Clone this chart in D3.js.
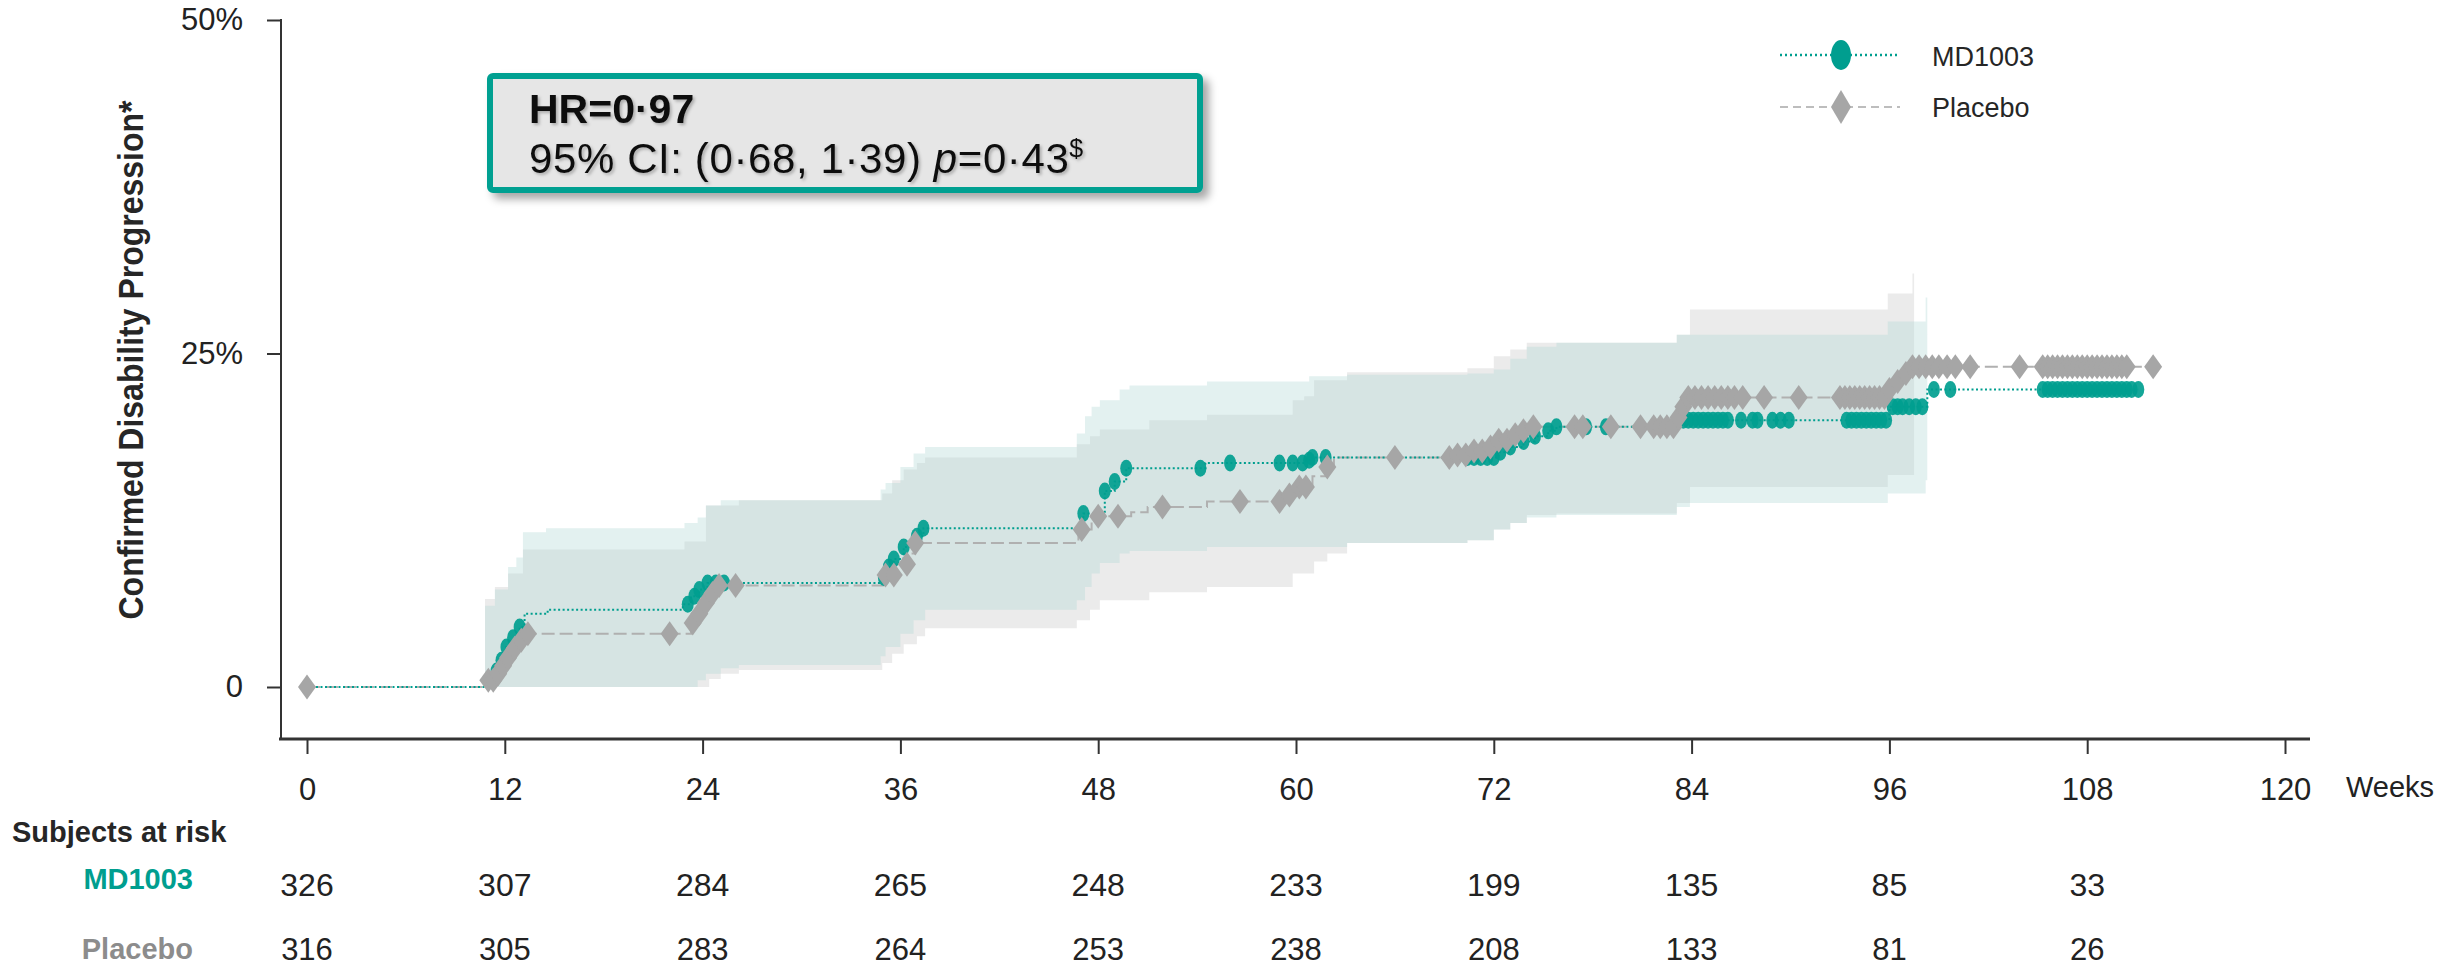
<!DOCTYPE html>
<html><head><meta charset="utf-8">
<script src="https://cdn.jsdelivr.net/npm/d3@7"></script>
<style>
html,body{margin:0;padding:0;background:#fff;}
svg{display:block;font-family:Arial,"Liberation Sans",Helvetica,sans-serif;}
</style></head>
<body>
<script>
// ---------- DATA ----------
const xTicks = [0,12,24,36,48,60,72,84,96,108,120];
const yTicks = [0,25,50];
const seriesNames = ["MD1003","Placebo"];

// Kaplan-Meier step curves: [week, cumulative % progressed]
const mdSteps = [
 [0,0],[11.2,0.5],[11.5,1.2],[11.8,2.0],[12.1,3.0],[12.5,3.7],[12.9,4.5],[13.2,5.5],[14.6,5.8],
 [22.8,6.2],[23.3,6.8],[23.8,7.3],[24.3,7.8],
 [35.0,8.2],[35.3,9.0],[35.6,9.6],[36.2,10.5],[37.0,11.3],[37.4,11.9],
 [47.1,13.0],[48.4,14.7],[49.0,15.4],[49.7,16.4],
 [54.5,16.8],[60.6,17.0],[61.0,17.2],
 [72.3,17.6],[73.0,18.0],[73.8,18.4],[74.5,18.8],[75.3,19.2],[75.8,19.5],
 [83.1,20.0],[96.0,21.0],[98.3,22.3],[111.1,22.3]
];
const plSteps = [
 [0,0],[11.0,0.5],[11.4,1.0],[11.8,1.6],[12.2,2.2],[12.6,2.9],[13.0,3.5],[13.4,4.0],
 [23.3,4.8],[23.8,5.5],[24.2,6.3],[24.6,7.0],[25.0,7.6],
 [35.1,8.4],[35.7,9.2],[36.5,10.0],[36.9,10.8],
 [46.8,11.8],[47.6,12.8],[50.0,13.1],[51.0,13.5],[54.6,13.9],
 [59.5,14.4],[60.2,15.0],[61.0,15.8],[61.8,16.5],[62.3,17.2],
 [69.5,17.4],[70.5,17.7],[71.5,18.0],[72.3,18.5],[73.0,18.9],[73.8,19.2],[74.4,19.5],
 [83.1,20.2],[83.4,21.0],[83.7,21.7],
 [96.0,22.3],[96.5,22.9],[97.0,23.5],[97.4,24.0],[112.0,24.0]
];

// Marker weeks (events / censored)
const mdMarks = [11.2,11.5,11.8,12.1,12.5,12.9,23.1,23.5,23.8,24.3,24.8,25.3,35.0,35.3,35.6,36.2,37.0,37.4,
 47.1,48.4,49.0,49.7,54.2,56.0,59.0,59.8,60.4,60.8,61.0,61.8,
 70.4,70.8,71.2,71.6,72.0,72.4,73.0,73.8,74.5,75.3,75.8,77.6,78.8,
 83.2,83.5,83.8,84.1,84.4,84.7,85.0,85.3,85.6,85.9,86.2,87.0,87.7,88.0,88.9,89.4,89.9,
 93.4,93.7,94.0,94.3,94.6,94.9,95.2,95.5,95.8,96.2,96.5,96.8,97.2,97.6,98.0,98.7,99.7,
 105.3,105.6,105.9,106.2,106.5,106.8,107.1,107.4,107.7,108.0,108.3,108.6,108.9,109.2,109.5,109.8,110.1,110.4,110.7,111.1];
const plMarks = [0,11.0,11.3,11.6,11.9,12.2,12.6,13.0,13.4,22.0,23.4,23.8,24.2,24.6,25.0,26.0,35.1,35.6,36.4,36.9,
 47.0,48.0,49.2,51.9,56.6,59.0,59.6,60.2,60.6,61.9,66.0,
 69.3,69.8,70.3,70.8,71.3,71.8,72.3,72.8,73.3,73.8,74.4,76.9,77.4,79.1,80.9,81.7,82.1,82.5,82.9,
 83.2,83.5,83.8,84.2,84.6,85.0,85.4,85.8,86.2,86.6,87.1,88.4,90.5,
 93.0,93.3,93.6,93.9,94.2,94.5,94.8,95.1,95.4,95.7,96.0,96.5,97.0,97.4,97.8,98.2,98.6,99.0,99.5,100.0,100.9,103.9,
 105.3,105.6,105.9,106.2,106.5,106.8,107.1,107.4,107.7,108.0,108.3,108.6,108.9,109.2,109.5,109.8,110.1,110.4,112.0];

// 95% confidence bands: [week, lower %, upper %]
const mdBand = [
 [10.8,0,6.1],[11.4,0,7.3],[12.2,0,9.0],[12.7,0,9.7],[13.1,0,11.6],[14.5,0,11.9],[22.9,0,12.3],
 [23.7,0.5,12.7],[24.2,1.0,13.6],[25.1,1.4,14.0],[26.2,1.65,14.0],
 [34.8,2.3,14.8],[35.1,3.0,15.3],[36.0,4.0,16.5],[36.8,5.0,17.5],[37.5,5.8,18.0],
 [46.7,6.5,19.0],[47.2,7.5,20.3],[47.6,8.5,21.0],[48.1,9.3,21.5],[49.3,10.0,22.3],[49.9,10.2,22.6],
 [54.6,10.5,22.9],[60.8,10.5,23.3],[63.1,10.8,23.4],[70.4,11.0,23.5],[72.0,11.8,23.8],[73.0,12.3,24.6],
 [74.0,12.7,25.5],[75.8,12.9,25.8],[83.1,13.5,26.4],[83.9,13.8,26.4],[95.9,14.5,27.4],[98.2,15.5,29.2],[98.3,15.5,29.2]
];
const plBand = [
 [10.8,0,6.6],[11.4,0,7.5],[12.2,0,8.5],[13.1,0,10.3],[22.9,0,10.9],[24.2,0,13.6],[24.4,0.6,13.6],
 [25.1,1.0,13.6],[26.2,1.27,14.0],[34.9,1.8,14.5],[35.5,2.5,15.5],[36.2,3.2,16.3],[37.0,3.8,16.8],[37.5,4.4,17.2],
 [46.7,5.0,18.2],[47.5,5.8,18.8],[48.1,6.5,19.3],[51.1,7.1,20.0],[54.6,7.5,20.4],[59.8,8.5,21.5],[60.5,8.5,21.8],
 [61.1,9.4,23.0],[61.9,10.0,23.0],[63.1,10.8,23.6],[70.4,11.0,23.9],[72.0,11.8,24.8],[73.0,12.3,25.3],
 [74.0,12.9,25.8],[75.8,13.0,25.8],[83.1,13.8,26.4],[83.9,15.0,28.3],[95.9,15.9,29.5],[97.4,15.9,31.0],[97.5,15.9,31.0]
];

// Subjects at risk
const riskWeeks = [0,12,24,36,48,60,72,84,96,108];
const mdRisk = [326,307,284,265,248,233,199,135,85,33];
const plRisk = [316,305,283,264,253,238,208,133,81,26];

const hrLine1 = "HR=0·97";
const hrCI = "95% CI: (0·68, 1·39) ";
const hrP = "=0·43";

// ---------- STYLE ----------
const TEAL = "#009e8f", GREY = "#a6a6a6", TXT = "#222";

const W = 2461, H = 970;
const svg = d3.select("body").append("svg").attr("width", W).attr("height", H);
const defs = svg.append("defs");
const sh = defs.append("filter").attr("id","boxShadow").attr("x","-5%").attr("y","-20%").attr("width","115%").attr("height","150%");
sh.append("feDropShadow").attr("dx",6).attr("dy",6).attr("stdDeviation",4).attr("flood-color","#000").attr("flood-opacity",0.35);
const tsh = defs.append("filter").attr("id","txtShadow");
tsh.append("feDropShadow").attr("dx",2).attr("dy",2).attr("stdDeviation",1.5).attr("flood-color","#000").attr("flood-opacity",0.25);

const x = d3.scaleLinear().domain([0,120]).range([307,2285]);
const y = d3.scaleLinear().domain([0,50]).range([687,20]);

const stepAt = (steps, w) => { let v = steps[0][1]; for (const s of steps) if (s[0] <= w + 1e-9) v = s[1]; return v; };

// bands
const area = d3.area().x(d=>x(d[0])).y0(d=>y(d[1])).y1(d=>y(d[2])).curve(d3.curveStepAfter);
svg.append("path").datum(plBand).attr("d",area).attr("fill","#ebebeb");
svg.append("path").datum(mdBand).attr("d",area).attr("fill","rgb(175,215,212)").attr("fill-opacity",0.35);

// lines
const line = d3.line().x(d=>x(d[0])).y(d=>y(d[1])).curve(d3.curveStepAfter);
svg.append("path").datum(plSteps).attr("d",line).attr("fill","none").attr("stroke","#b0b0b0").attr("stroke-width",2).attr("stroke-dasharray","13,5");
svg.append("path").datum(mdSteps).attr("d",line).attr("fill","none").attr("stroke",TEAL).attr("stroke-width",2).attr("stroke-dasharray","2,2.5");

// markers
svg.append("g").selectAll("ellipse").data(mdMarks).join("ellipse")
  .attr("cx",d=>x(d)).attr("cy",d=>y(stepAt(mdSteps,d))).attr("rx",6).attr("ry",8.5)
  .attr("fill",TEAL).attr("fill-opacity",0.92);
const diamond = "M0,-12.5L9,0L0,12.5L-9,0Z";
svg.append("g").selectAll("path").data(plMarks).join("path")
  .attr("d",diamond).attr("transform",d=>`translate(${x(d)},${y(stepAt(plSteps,d))})`)
  .attr("fill",GREY);

// axes
const xAxis = svg.append("g").attr("transform","translate(0,739)")
  .call(d3.axisBottom(x).tickValues(xTicks).tickSize(15).tickPadding(24).tickFormat(d3.format("d")));
xAxis.select(".domain").remove();
xAxis.selectAll(".tick line").attr("stroke","#333").attr("stroke-width",2);
xAxis.selectAll(".tick text").attr("font-size",31).attr("fill",TXT).attr("font-family","Arial, 'Liberation Sans', sans-serif");
svg.append("line").attr("x1",279).attr("x2",2310).attr("y1",739).attr("y2",739).attr("stroke","#333").attr("stroke-width",3);

const yAxis = svg.append("g").attr("transform","translate(281,0)")
  .call(d3.axisLeft(y).tickValues(yTicks).tickSize(14).tickPadding(24).tickFormat(d=> d===0 ? "0" : d+"%"));
yAxis.select(".domain").remove();
yAxis.selectAll(".tick line").attr("stroke","#333").attr("stroke-width",2);
yAxis.selectAll(".tick text").attr("font-size",31).attr("fill",TXT).attr("font-family","Arial, 'Liberation Sans', sans-serif");
svg.append("line").attr("x1",281).attr("x2",281).attr("y1",y(50)-1).attr("y2",740).attr("stroke","#333").attr("stroke-width",2);

svg.append("text").attr("x",2346).attr("y",797).attr("font-size",29).attr("fill",TXT).text("Weeks");

svg.append("text").attr("transform","translate(143,360) rotate(-90) scale(1,1.1)")
  .attr("text-anchor","middle").attr("font-size",32).attr("font-weight","bold").attr("fill","#262626")
  .text("Confirmed Disability Progression*");

// at-risk table
svg.append("text").attr("x",12).attr("y",842).attr("font-size",29).attr("font-weight","bold").attr("fill","#262626").text("Subjects at risk");
svg.append("text").attr("x",193).attr("y",889).attr("text-anchor","end").attr("font-size",29).attr("font-weight","bold").attr("fill",TEAL).text(seriesNames[0]);
svg.append("text").attr("x",193).attr("y",959).attr("text-anchor","end").attr("font-size",29).attr("font-weight","bold").attr("fill","#8c8c8c").text(seriesNames[1]);
svg.append("g").selectAll("text").data(riskWeeks).join("text")
  .attr("x",d=>x(d)).attr("y",896).attr("text-anchor","middle").attr("font-size",32).attr("fill",TXT)
  .text((d,i)=>mdRisk[i]);
svg.append("g").selectAll("text").data(riskWeeks).join("text")
  .attr("x",d=>x(d)).attr("y",960).attr("text-anchor","middle").attr("font-size",31).attr("fill",TXT)
  .text((d,i)=>plRisk[i]);

// HR box
svg.append("rect").attr("x",490).attr("y",76).attr("width",710).attr("height",114).attr("rx",3)
  .attr("fill","#e6e6e6").attr("stroke","#00a091").attr("stroke-width",6).attr("filter","url(#boxShadow)");
const tg = svg.append("g").attr("filter","url(#txtShadow)").attr("fill","#111");
tg.append("text").attr("x",529).attr("y",123).attr("font-size",41).attr("font-weight","bold").text(hrLine1);
const t2 = tg.append("text").attr("x",529).attr("y",173).attr("font-size",42).attr("letter-spacing",0.6);
t2.append("tspan").text(hrCI);
t2.append("tspan").attr("font-style","italic").text("p");
t2.append("tspan").text(hrP);
t2.append("tspan").attr("font-size",25).attr("dy",-16).text("$");

// legend
const lg = svg.append("g");
lg.append("line").attr("x1",1780).attr("x2",1897).attr("y1",55).attr("y2",55).attr("stroke",TEAL).attr("stroke-width",2.5).attr("stroke-dasharray","2,3");
lg.append("ellipse").attr("cx",1841).attr("cy",55).attr("rx",10).attr("ry",15).attr("fill",TEAL);
lg.append("line").attr("x1",1780).attr("x2",1900).attr("y1",107).attr("y2",107).attr("stroke","#bdbdbd").attr("stroke-width",2).attr("stroke-dasharray","8,5");
lg.append("path").attr("d","M0,-17L10,0L0,17L-10,0Z").attr("transform","translate(1841,107)").attr("fill",GREY);
lg.append("text").attr("x",1932).attr("y",66).attr("font-size",27).attr("fill","#262626").text(seriesNames[0]);
lg.append("text").attr("x",1932).attr("y",117).attr("font-size",27).attr("fill","#262626").text(seriesNames[1]);
</script>
</body></html>
